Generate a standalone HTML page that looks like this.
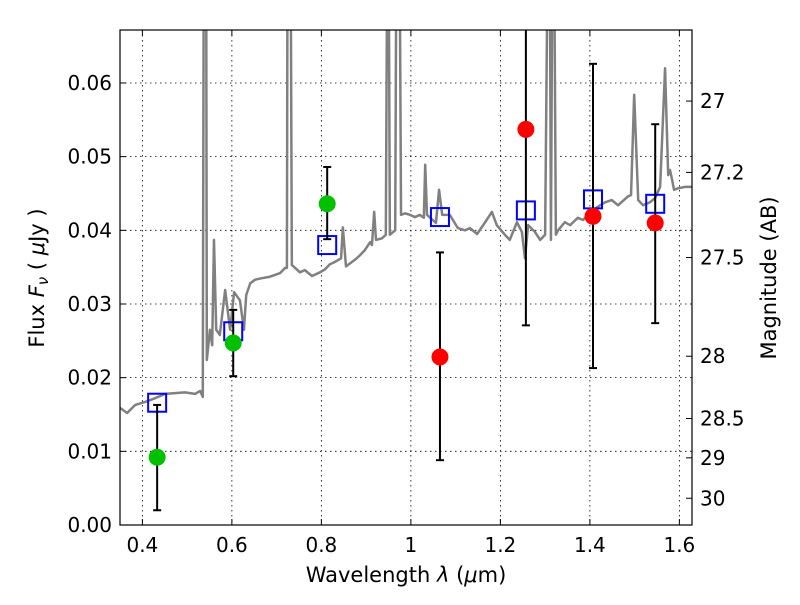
<!DOCTYPE html>
<html><head><meta charset="utf-8"><style>
body{margin:0;background:#fff;}
svg text{font-family:"DejaVu Sans","Liberation Sans",sans-serif;fill:#000;}
</style></head><body>
<svg id="chart" width="800" height="600" xmlns="http://www.w3.org/2000/svg">
<rect width="800" height="600" fill="#fff"/>
<g id="grid"></g>
<g id="plot"></g>
<rect x="120" y="30" width="572" height="495" fill="none" stroke="#000" stroke-width="1.2"/>
<g id="axes"></g>
<text x="406" y="582" font-size="21" text-anchor="middle">Wavelength  <tspan font-style="italic">λ</tspan> (<tspan font-style="italic">μ</tspan>m)</text>
<text transform="translate(44,278) rotate(-90)" font-size="21" text-anchor="middle">Flux  <tspan font-style="italic">F<tspan font-size="15" dy="4">ν</tspan></tspan><tspan dy="-4">  ( </tspan><tspan font-style="italic">μ</tspan>Jy )</text>
<text transform="translate(776,278) rotate(-90)" font-size="21" text-anchor="middle">Magnitude (AB)</text>
</svg>
<script>
const specWave=[0.350,0.366,0.384,0.406,0.428,0.451,0.473,0.495,0.518,0.529,0.535,0.538,0.542,0.544,0.551,0.556,0.560,0.565,0.573,0.585,0.596,0.605,0.618,0.627,0.632,0.641,0.652,0.667,0.685,0.708,0.719,0.723,0.725,0.730,0.734,0.752,0.763,0.779,0.797,0.808,0.819,0.830,0.844,0.848,0.855,0.875,0.886,0.897,0.909,0.913,0.918,0.922,0.935,0.944,0.949,0.953,0.965,0.969,0.973,0.978,0.987,0.998,1.009,1.020,1.029,1.032,1.036,1.049,1.056,1.063,1.070,1.087,1.105,1.121,1.132,1.148,1.166,1.181,1.192,1.210,1.221,1.237,1.248,1.255,1.262,1.277,1.289,1.300,1.309,1.313,1.318,1.324,1.329,1.344,1.356,1.373,1.385,1.400,1.423,1.434,1.449,1.463,1.485,1.492,1.499,1.508,1.519,1.534,1.546,1.557,1.568,1.575,1.579,1.584,1.588,1.597,1.613,1.629];
const specFlux=[0.0159,0.0152,0.0163,0.0167,0.0172,0.0178,0.0179,0.0180,0.0178,0.0182,0.0174,0.10,0.10,0.0224,0.0265,0.0244,0.0387,0.0265,0.0258,0.0319,0.0265,0.0316,0.0305,0.0265,0.0312,0.0328,0.0333,0.0335,0.0337,0.0342,0.0349,0.0349,0.10,0.10,0.0353,0.0343,0.0346,0.0338,0.0343,0.0347,0.0354,0.0357,0.0362,0.0404,0.0351,0.0360,0.0366,0.0373,0.0384,0.0380,0.0425,0.0387,0.0389,0.0394,0.10,0.0394,0.0400,0.10,0.10,0.0421,0.0423,0.0421,0.0418,0.0421,0.0417,0.0489,0.0421,0.0414,0.0410,0.0455,0.0421,0.0421,0.0403,0.0400,0.0403,0.0395,0.0411,0.0425,0.0407,0.0394,0.0387,0.0411,0.0398,0.0362,0.0407,0.0398,0.0387,0.0394,0.10,0.0387,0.10,0.0394,0.0400,0.0411,0.0407,0.0417,0.0414,0.0425,0.0434,0.0438,0.0441,0.0434,0.0446,0.0448,0.0584,0.0441,0.0434,0.0438,0.0444,0.0459,0.0620,0.0475,0.0482,0.0468,0.0455,0.0457,0.0459,0.0459];
const greenWave=[0.433,0.603,0.813];
const greenFlux=[0.0092,0.0247,0.0436];
const greenLo=[0.0020,0.0202,0.0388];
const greenHi=[0.0163,0.0292,0.0486];
const redWave=[1.065,1.257,1.407,1.546];
const redFlux=[0.0228,0.0537,0.0419,0.0410];
const redLo=[0.0088,0.0271,0.0213,0.0274];
const redHi=[0.0370,0.0800,0.0626,0.0544];
const modelWave=[0.433,0.603,0.813,1.065,1.257,1.407,1.546];
const modelFlux=[0.0166,0.0263,0.0380,0.0418,0.0427,0.0442,0.0436];
const xTicks=[0.4,0.6,0.8,1.0,1.2,1.4,1.6];
const xTickLabels=["0.4","0.6","0.8","1","1.2","1.4","1.6"];
const yTicks=[0,0.01,0.02,0.03,0.04,0.05,0.06];
const yTickLabels=["0.00","0.01","0.02","0.03","0.04","0.05","0.06"];
const magTicks=[27,27.2,27.5,28,28.5,29,30];
const magTickLabels=["27","27.2","27.5","28","28.5","29","30"];

const L=120,R=692,T=30,B=525,XMIN=0.35,XMAX=0.35+572/447.5,YMIN=0,YMAX=495/7367;
const NS="http://www.w3.org/2000/svg";
function X(v){return L+(v-XMIN)/(XMAX-XMIN)*(R-L);}
function Y(v){return B-(v-YMIN)/(YMAX-YMIN)*(B-T);}
function magToFlux(m){return Math.pow(10,(23.9-m)/2.5);}
function mk(tag,attrs,parent){const e=document.createElementNS(NS,tag);for(const k in attrs)e.setAttribute(k,attrs[k]);parent.appendChild(e);return e;}
const grid=document.getElementById('grid'),plot=document.getElementById('plot'),axes=document.getElementById('axes');
const cp=mk('clipPath',{id:'clip'},plot);
mk('rect',{x:L,y:T,width:R-L,height:B-T},cp);
xTicks.forEach((t,i)=>{
  const g=mk('line',{x1:X(t),x2:X(t),y1:T,y2:B,stroke:'#000','stroke-width':0.8,'stroke-dasharray':'1.5,3.5'},grid);
  
  
  const a=mk('line',{x1:X(t),x2:X(t),y1:B,y2:B-6,stroke:'#000','stroke-width':1},axes);
  
  
  const b=mk('line',{x1:X(t),x2:X(t),y1:T,y2:T+6,stroke:'#000','stroke-width':1},axes);
  
  
  const tx=mk('text',{x:X(t),y:B+27,'font-size':20,'text-anchor':'middle'},axes);tx.textContent=xTickLabels[i];
  
  
});
yTicks.forEach((t,i)=>{
  const g=mk('line',{x1:L,x2:R,y1:Y(t),y2:Y(t),stroke:'#000','stroke-width':0.8,'stroke-dasharray':'1.5,3.5'},grid);
  
  
  const a=mk('line',{x1:L,x2:L+6,y1:Y(t),y2:Y(t),stroke:'#000','stroke-width':1},axes);
  
  
  const tx=mk('text',{x:L-8,y:Y(t)+7,'font-size':20,'text-anchor':'end'},axes);tx.textContent=yTickLabels[i];
  
  
});
magTicks.forEach((m,i)=>{
  const y=Y(magToFlux(m));
  const a=mk('line',{x1:R,x2:R-6,y1:y,y2:y,stroke:'#000','stroke-width':1},axes);
  
  
  const tx=mk('text',{x:R+8,y:y+7,'font-size':20,'text-anchor':'start'},axes);tx.textContent=magTickLabels[i];
  
  
});
const sp=mk('polyline',{points:specWave.map((w,i)=>X(w)+','+Y(specFlux[i])).join(' '),fill:'none',stroke:'#808080','stroke-width':2.5,'stroke-linejoin':'round','clip-path':'url(#clip)'},plot);


modelWave.forEach((w,i)=>{
  const r=mk('rect',{x:X(w)-9,y:Y(modelFlux[i])-9,width:18,height:18,fill:'none',stroke:'#0000ff','stroke-width':2},plot);
  
  
});
function pts(wv,fl,lo,hi,col,name){
  wv.forEach((w,i)=>{
    const x=X(w);
    const e=mk('line',{x1:x,x2:x,y1:Y(lo[i]),y2:Y(hi[i]),stroke:'#000','stroke-width':2,'clip-path':'url(#clip)'},plot);
    
    
    [lo[i],hi[i]].forEach(v=>{
      const c=mk('line',{x1:x-4,x2:x+4,y1:Y(v),y2:Y(v),stroke:'#000','stroke-width':2,'clip-path':'url(#clip)'},plot);
      
      
    });
    const d=mk('circle',{cx:x,cy:Y(fl[i]),r:8.5,fill:col},plot);
    
    
  });
}
pts(greenWave,greenFlux,greenLo,greenHi,'#00c000','detection-point');
pts(redWave,redFlux,redLo,redHi,'#ff0000','upper-limit-point');
</script>
</body></html>
